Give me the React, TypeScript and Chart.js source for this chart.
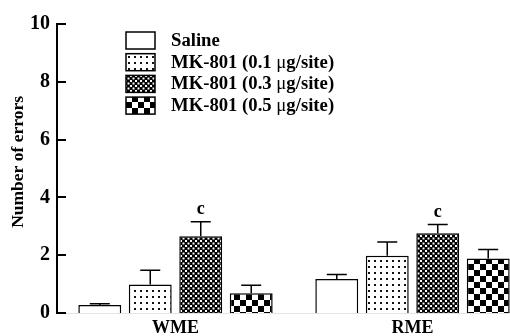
import React, { useEffect, useRef } from "react";
import { Chart, registerables } from "chart.js";

Chart.register(...registerables);

const categories = ["WME", "RME"];
const seriesLabels = [
  "Saline",
  "MK-801 (0.1 μg/site)",
  "MK-801 (0.3 μg/site)",
  "MK-801 (0.5 μg/site)",
];
const salineValues = [0.28, 1.18];
const salineErrors = [0.04, 0.15];
const mk01Values = [0.99, 1.98];
const mk01Errors = [0.49, 0.48];
const mk03Values = [2.66, 2.76];
const mk03Errors = [0.5, 0.3];
const mk05Values = [0.68, 1.89];
const mk05Errors = [0.28, 0.31];
const salineSig = ["", ""];
const mk01Sig = ["", ""];
const mk03Sig = ["c", "c"];
const mk05Sig = ["", ""];
const yTicks = [0, 2, 4, 6, 8, 10];

const SERIF = "'Liberation Serif', 'Times New Roman', serif";

function makePattern(kind: string): CanvasPattern | string {
  const c = document.createElement("canvas");
  const g = c.getContext("2d")!;
  if (kind === "white") return "#ffffff";
  if (kind === "dots") {
    c.width = 6;
    c.height = 6;
    g.fillStyle = "#fff";
    g.fillRect(0, 0, 6, 6);
    g.fillStyle = "#111";
    g.fillRect(2, 2, 2, 2);
  } else if (kind === "fine") {
    c.width = 5;
    c.height = 5;
    g.fillStyle = "#000";
    g.fillRect(0, 0, 5, 5);
    g.fillStyle = "#fff";
    g.fillRect(0, 0, 2, 2);
    g.fillRect(2.5, 2.5, 2, 2);
  } else {
    c.width = 12;
    c.height = 12;
    g.fillStyle = "#fff";
    g.fillRect(0, 0, 12, 12);
    g.fillStyle = "#000";
    g.fillRect(0, 0, 6, 6);
    g.fillRect(6, 6, 6, 6);
  }
  return g.createPattern(c, "repeat")!;
}

export default function App() {
  const ref = useRef<HTMLCanvasElement | null>(null);

  useEffect(() => {
    const canvas = ref.current!;
    const fills = [
      makePattern("white"),
      makePattern("dots"),
      makePattern("fine"),
      makePattern("checker"),
    ];
    const values = [salineValues, mk01Values, mk03Values, mk05Values];
    const errors = [salineErrors, mk01Errors, mk03Errors, mk05Errors];
    const sigs = [salineSig, mk01Sig, mk03Sig, mk05Sig];

    const extras = {
      id: "extras",
      afterDatasetsDraw(chart: any) {
        const ctx = chart.ctx;
        const y = chart.scales.y;
        const area = chart.chartArea;
        ctx.save();
        // inward y ticks
        ctx.strokeStyle = "#000";
        ctx.lineWidth = 2;
        yTicks.forEach((t) => {
          const py = Math.round(y.getPixelForValue(t));
          ctx.beginPath();
          ctx.moveTo(area.left, py);
          ctx.lineTo(area.left + 9, py);
          ctx.stroke();
        });
        // error bars + significance
        ctx.lineWidth = 1.5;
        values.forEach((vals, di) => {
          const meta = chart.getDatasetMeta(di);
          vals.forEach((v, i) => {
            const bar = meta.data[i];
            const top = y.getPixelForValue(v + errors[di][i]);
            const base = y.getPixelForValue(v);
            ctx.beginPath();
            ctx.moveTo(bar.x, base);
            ctx.lineTo(bar.x, top);
            ctx.moveTo(bar.x - 10, top);
            ctx.lineTo(bar.x + 10, top);
            ctx.stroke();
            if (sigs[di][i]) {
              ctx.fillStyle = "#000";
              ctx.font = `bold 18px ${SERIF}`;
              ctx.textAlign = "center";
              ctx.textBaseline = "middle";
              ctx.fillText(sigs[di][i], bar.x, top - 12);
            }
          });
        });
        // legend
        const lx = 126;
        const ly = 32;
        seriesLabels.forEach((lab, i) => {
          const by = ly + i * 21.7;
          ctx.fillStyle = fills[i] as any;
          ctx.fillRect(lx, by, 29, 17);
          ctx.strokeStyle = "#000";
          ctx.lineWidth = 1.5;
          ctx.strokeRect(lx, by, 29, 17);
          ctx.fillStyle = "#000";
          ctx.textAlign = "left";
          ctx.textBaseline = "middle";
          const parts = lab.split("μ");
          let tx = 171;
          parts.forEach((p, pi) => {
            ctx.font = `bold 18.7px ${SERIF}`;
            ctx.fillText(p, tx, by + 9);
            tx += ctx.measureText(p).width;
            if (pi < parts.length - 1) {
              ctx.font = `18.7px ${SERIF}`;
              ctx.fillText("μ", tx, by + 9);
              tx += ctx.measureText("μ").width;
            }
          });
        });
        ctx.restore();
      },
    };

    const chart = new Chart(canvas, {
      type: "bar",
      data: {
        labels: categories,
        datasets: values.map((vals, i) => ({
          label: seriesLabels[i],
          data: vals,
          backgroundColor: fills[i] as any,
          borderColor: "#000",
          borderWidth: 1.5,
          barPercentage: 0.85,
          categoryPercentage: 0.852,
        })),
      },
      options: {
        animation: false,
        responsive: false,
        devicePixelRatio: 1,
        layout: { padding: { top: 24, right: 9, left: 0, bottom: 0 } },
        plugins: {
          legend: { display: false },
          tooltip: { enabled: false },
        },
        scales: {
          x: {
            offset: true,
            grid: { display: false, drawTicks: false },
            border: { display: true, color: "#e4e4e4", width: 1 },
            ticks: {
              padding: 5,
              color: "#000",
              font: { family: SERIF, size: 18, weight: "bold" },
            },
            afterFit: (s: any) => {
              s.height = 23;
            },
          },
          y: {
            min: 0,
            max: 10,
            grid: { display: false, drawTicks: false },
            border: { display: true, color: "#000", width: 2 },
            ticks: {
              stepSize: 2,
              padding: 7,
              color: "#000",
              font: { family: SERIF, size: 20, weight: "bold" },
            },
            title: {
              display: true,
              text: "   Number of errors",
              color: "#000",
              padding: { top: 8, bottom: 0 },
              font: { family: SERIF, size: 17.5, weight: "bold" },
            },
            afterFit: (s: any) => {
              s.width = 57;
            },
          },
        },
      },
      plugins: [extras],
    });
    return () => chart.destroy();
  }, []);

  return (
    <div
      style={{
        position: "fixed",
        left: 0,
        top: 0,
        width: 540,
        height: 336,
        background: "#fff",
      }}
    >
      <canvas ref={ref} width={540} height={336} style={{ width: 540, height: 336 }} />
    </div>
  );
}
